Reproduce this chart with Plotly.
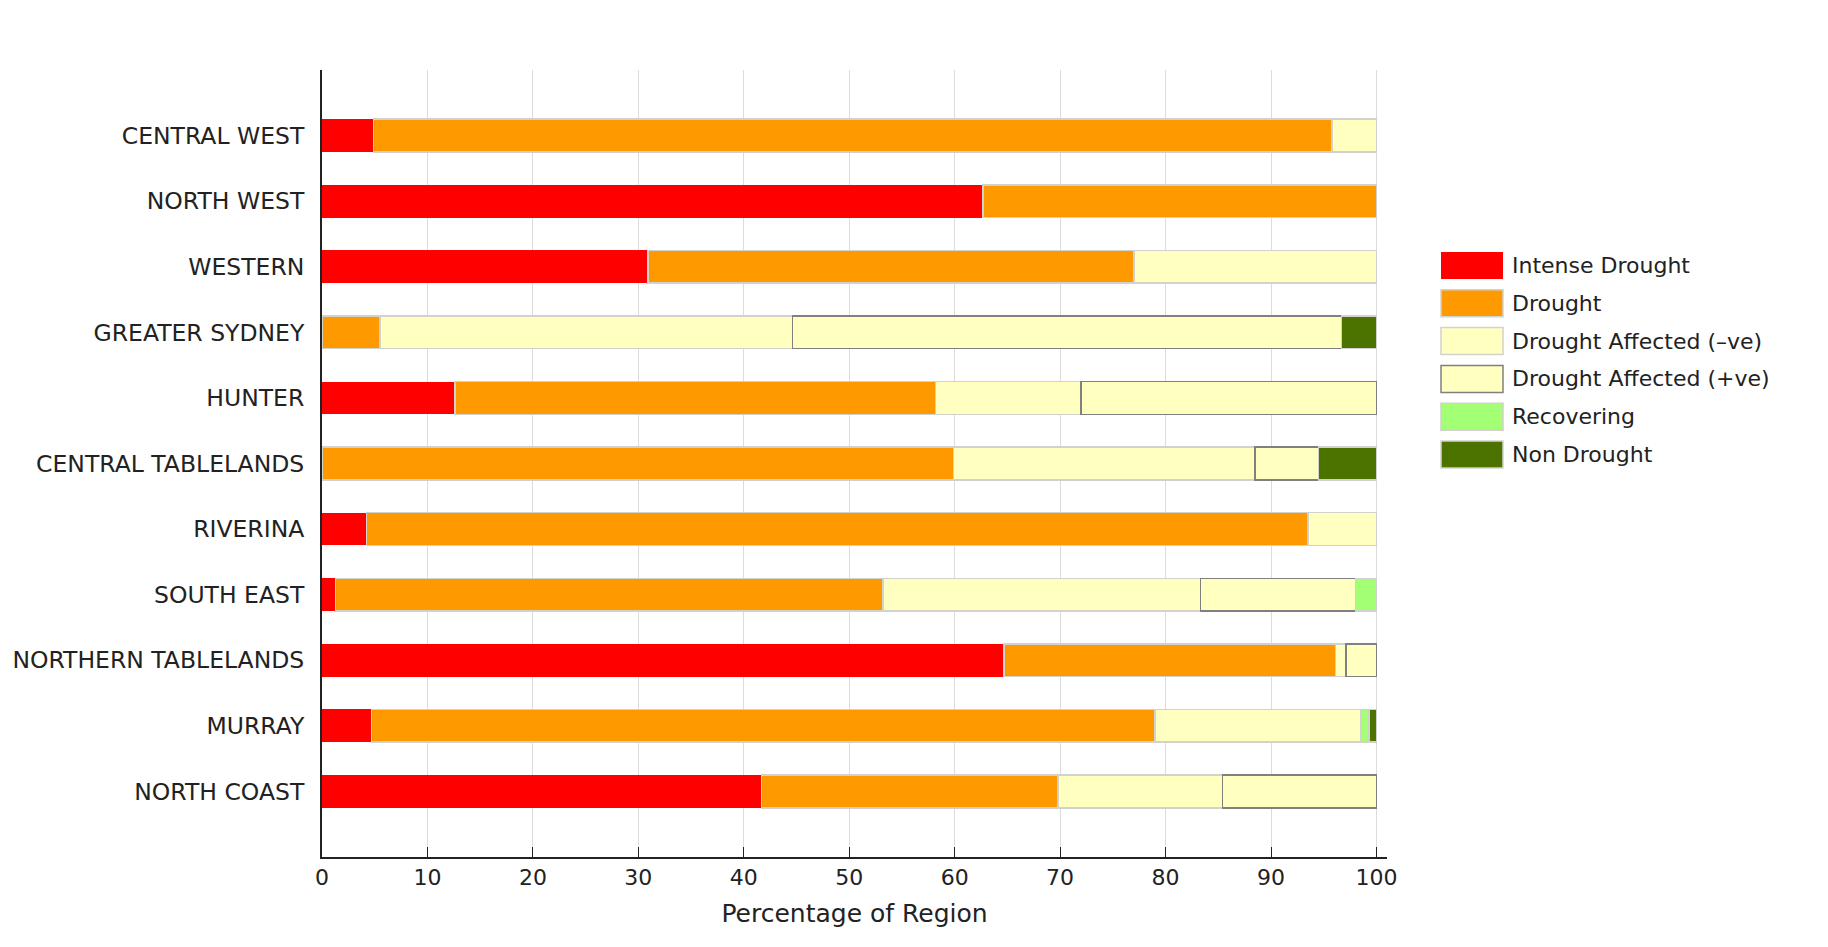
import plotly.graph_objects as go

regions = ["CENTRAL WEST", "NORTH WEST", "WESTERN", "GREATER SYDNEY", "HUNTER",
           "CENTRAL TABLELANDS", "RIVERINA", "SOUTH EAST", "NORTHERN TABLELANDS",
           "MURRAY", "NORTH COAST"]

intense_drought = [4.9, 62.7, 30.9, None, 12.6, None, 4.2, 1.3, 64.7, 4.7, 41.7]
drought = [90.9, 37.3, 46.1, 5.5, 45.6, 59.9, 89.3, 51.9, 31.4, 74.3, 28.1]
affected_neg = [4.2, None, 23.0, 39.1, 13.8, 28.6, 6.5, 30.1, 1.0, 19.5, 15.6]
affected_pos = [None, None, None, 52.1, 28.0, 6.0, None, 14.7, 2.9, None, 14.6]
recovering = [None, None, None, None, None, None, None, 2.0, None, 0.8, None]
non_drought = [None, None, None, 3.3, None, 5.5, None, None, None, 0.7, None]

series_names = ["Intense Drought", "Drought", "Drought Affected (\u2013ve)",
                "Drought Affected (+ve)", "Recovering", "Non Drought"]
series_values = [intense_drought, drought, affected_neg, affected_pos, recovering, non_drought]
fill_colors = ["#ff0000", "#ff9900", "#ffffc0", "#ffffc0", "#a3ff73", "#4c7300"]
line_colors = ["#ff0000", "#d3d1cb", "#d3d1cb", "#808080", "#d3d1cb", "#d3d1cb"]
line_widths = [0, 1.5, 1.5, 1.5, 1.5, 1.5]

x_ticks = [0, 10, 20, 30, 40, 50, 60, 70, 80, 90, 100]

FONT = "DejaVu Sans, Verdana, sans-serif"
TXT = "#222222"

fig = go.Figure()
for name, vals, fc, lc, lw in zip(series_names, series_values, fill_colors, line_colors, line_widths):
    fig.add_trace(go.Bar(
        y=regions, x=vals, name=name, orientation="h",
        marker=dict(color=fc, line=dict(color=lc, width=lw)),
        showlegend=False,
    ))

W, H = 1828, 947
L, R, T, B = 322, 441, 70, 90
pw = W - L - R
ph = H - T - B

fig.update_layout(
    width=W, height=H,
    margin=dict(l=L, r=R, t=T, b=B, pad=0),
    barmode="stack", bargap=0.5,
    plot_bgcolor="white", paper_bgcolor="white",
    font=dict(family=FONT, size=22, color=TXT),
    xaxis=dict(
        range=[0, 101], tickvals=x_ticks, ticktext=[str(v) for v in x_ticks],
        showgrid=True, gridcolor="#dcdcdc", gridwidth=1,
        showline=True, linecolor="#222222", linewidth=2,
        ticks="inside", ticklen=10, tickcolor="#222222", tickwidth=1,
        zeroline=False,
        title=dict(text="Percentage of Region", font=dict(size=25, color=TXT), standoff=15),
        tickfont=dict(size=22, color=TXT),
    ),
    yaxis=dict(
        type="category", categoryorder="array", categoryarray=regions,
        range=[11, -1],
        showgrid=False, showline=True, linecolor="#222222", linewidth=2,
        ticks="", ticklabelstandoff=11,
        tickfont=dict(size=23.5, color=TXT),
        zeroline=False,
    ),
)

# Legend drawn with shapes and text (large swatches as in reference)
sw_x0, sw_x1 = 1441, 1503
sw_top0, sw_step, sw_h = 252, 37.8, 27
for i, (name, fc, lc, lw) in enumerate(zip(series_names, fill_colors, line_colors, line_widths)):
    top = sw_top0 + i * sw_step
    bot = top + sw_h
    fig.add_shape(
        type="rect", xref="paper", yref="paper",
        x0=(sw_x0 - L) / pw, x1=(sw_x1 - L) / pw,
        y0=1 - (bot - T) / ph, y1=1 - (top - T) / ph,
        fillcolor=fc,
        line=dict(color=lc if lw > 0 else fc, width=max(lw, 1) if lw > 0 else 0),
    )
    fig.add_annotation(
        xref="paper", yref="paper",
        x=(1510 - L) / pw, y=1 - ((top + bot) / 2 - T) / ph,
        text=name, showarrow=False, xanchor="left", yanchor="middle",
        font=dict(family=FONT, size=22, color=TXT),
    )

fig.write_html("out.html")
